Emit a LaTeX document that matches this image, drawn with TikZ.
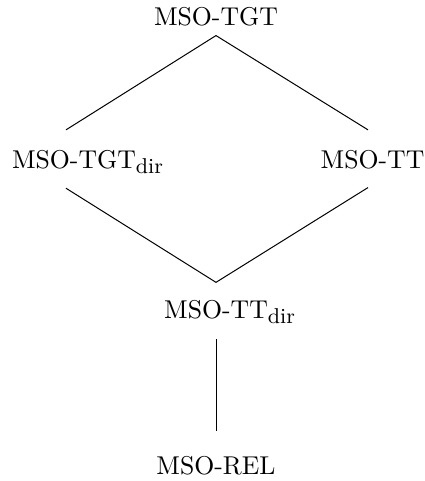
\documentclass[tikz,border=0pt]{standalone}
\usetikzlibrary{positioning}
\newcommand{\dirsub}{\rlap{\raisebox{-2pt}{\fontsize{8.6}{9}\selectfont dir}}}

\begin{document}
\begin{tikzpicture}[x=0.4pt,y=-0.4pt]
      \useasboundingbox (0,0) rectangle (425,481);
      \begin{scope}[every node/.style={inner sep=0pt,anchor=base,font=\fontsize{10.3}{12}\selectfont}]
        \node (tgt) at (216,25.5) {MSO-TGT};
        \node (tgtdir) at (74,168.5) {MSO-TGT\dirsub};
        \node (tt) at (372.5,168.5) {MSO-TT};
        \node (ttdir) at (216,318.5) {MSO-TT\dirsub};
        \node (rel) at (216,474.5) {MSO-REL};
      \end{scope}
      \begin{scope}[every edge/.style={draw=black}]
        \path ([shift={(0,9)}]tgt.south) edge ([shift={(-8,-20)}]tgtdir.north);
        \path ([shift={(0,9)}]tgt.south) edge ([shift={(-4.5,-20)}]tt.north);
        \path ([shift={(-8,14)}]tgtdir.south) edge ([shift={(0,-17.5)}]ttdir.north);
        \path ([shift={(-4.5,18)}]tt.south) edge ([shift={(0,-17.5)}]ttdir.north);
        \path ([shift={(0,15)}]ttdir.south) edge ([shift={(0,-24.5)}]rel.north);
      \end{scope}
    \end{tikzpicture}
\end{document}
